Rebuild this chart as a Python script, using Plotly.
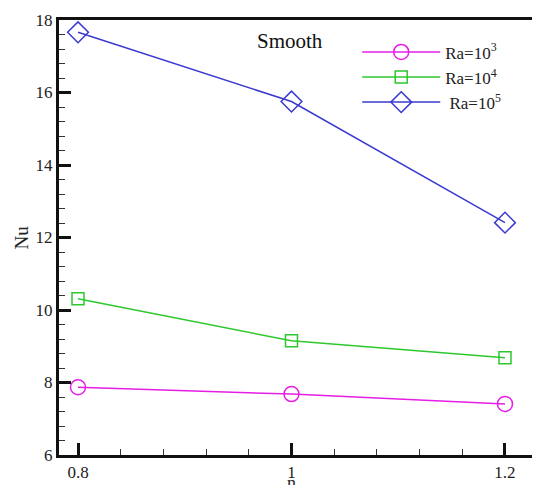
import plotly.graph_objects as go

n_values = [0.8, 1.0, 1.2]
nu_ra1e3 = [7.87, 7.68, 7.41]
nu_ra1e4 = [10.31, 9.15, 8.68]
nu_ra1e5 = [17.66, 15.75, 12.41]
series_names = ["Ra=10<sup>3</sup>", "Ra=10<sup>4</sup>", " Ra=10<sup>5</sup>"]
x_ticks = [0.8, 1.0, 1.2]
x_tick_labels = ["0.8", "1", "1.2"]
y_ticks = [6, 8, 10, 12, 14, 16, 18]

FONT = "Liberation Serif, serif"

fig = go.Figure()
styles = [
    (nu_ra1e3, "#e51ee5", "circle-open", 15),
    (nu_ra1e4, "#2ec82e", "square-open", 12),
    (nu_ra1e5, "#3a3ad0", "diamond-open", 16),
]
for (vals, col, sym, sz), name in zip(styles, series_names):
    fig.add_trace(go.Scatter(
        x=n_values, y=vals, name=name, mode="lines+markers",
        line=dict(color=col, width=1.5),
        marker=dict(symbol=sym, size=sz, color=col, line=dict(color=col, width=1.5)),
    ))

fig.update_layout(
    width=532, height=477,
    margin=dict(l=51, r=0, t=12, b=30, autoexpand=False),
    paper_bgcolor="white", plot_bgcolor="white",
    font=dict(family=FONT, size=15, color="#222"),
    showlegend=True,
    legend=dict(x=0.62, y=0.967, xanchor="left", yanchor="top",
                bgcolor="rgba(0,0,0,0)", itemwidth=78,
                font=dict(family=FONT, size=17, color="#222"),
                tracegroupgap=0, itemsizing="trace"),
    annotations=[
        dict(text="Smooth", xref="paper", yref="paper", x=0.48, y=0.985,
             xanchor="center", yanchor="top", showarrow=False,
             font=dict(family=FONT, size=21, color="#111")),
        dict(text="n", xref="paper", yref="paper", x=0.483, y=-0.036,
             xanchor="center", yanchor="top", showarrow=False,
             font=dict(family=FONT, size=18, color="#222")),
        dict(text="Nu", xref="paper", yref="paper", x=-0.077, y=0.5,
             xanchor="center", yanchor="middle", showarrow=False, textangle=-90,
             font=dict(family=FONT, size=19, color="#222")),
    ],
)
fig.update_xaxes(
    range=[0.7822, 1.2328], tickvals=x_ticks, ticktext=x_tick_labels,
    ticks="inside", ticklen=12, tickwidth=2.5, tickcolor="#111",
    showline=True, linewidth=3, linecolor="#111", mirror=True,
    showgrid=False, zeroline=False, automargin=False,
    minor=dict(dtick=0.04, tick0=0.8, ticks="inside", ticklen=6, tickwidth=1, tickcolor="#333"),
    tickfont=dict(family=FONT, size=17),
)
fig.update_yaxes(
    range=[6, 18], tickvals=y_ticks,
    ticks="inside", ticklen=12, tickwidth=2.5, tickcolor="#111",
    showline=True, linewidth=3, linecolor="#111", mirror=False,
    showgrid=False, zeroline=False, automargin=False,
    minor=dict(dtick=0.4, tick0=6, ticks="inside", ticklen=6, tickwidth=1, tickcolor="#333"),
    tickfont=dict(family=FONT, size=17),
)

fig.write_html("out.html")
